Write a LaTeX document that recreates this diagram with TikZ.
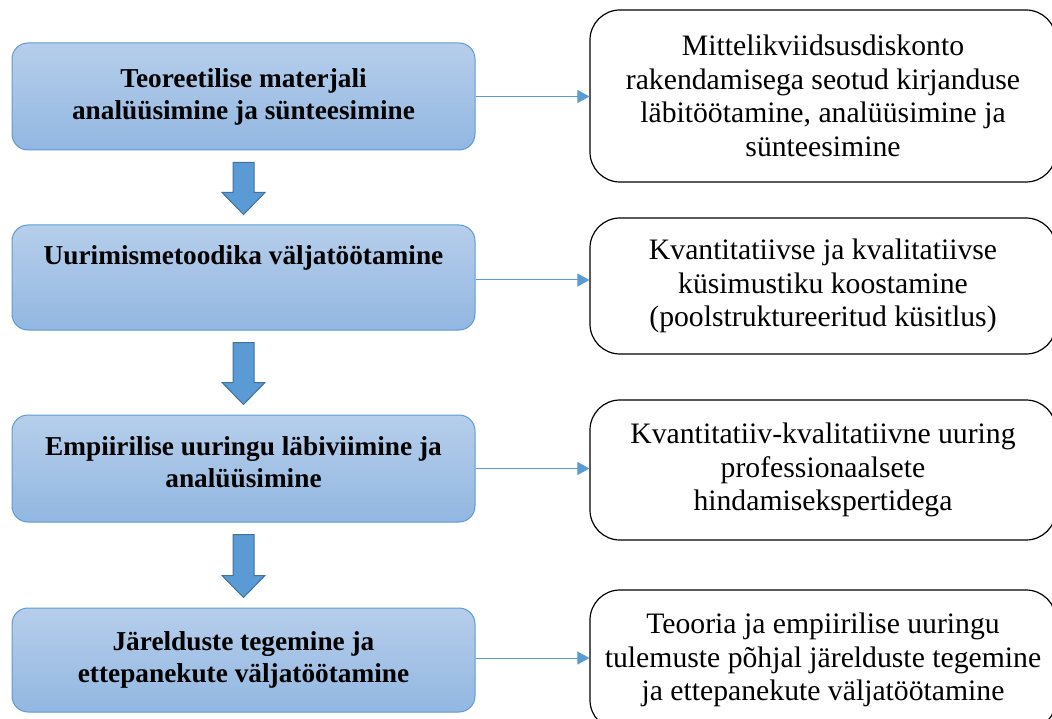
\documentclass[tikz,border=0pt]{standalone}
\usepackage{fontspec}
\setmainfont{Liberation Serif}
\usetikzlibrary{calc,arrows.meta}
\definecolor{accent}{RGB}{91,155,213}
\definecolor{accentdark}{RGB}{65,113,156}
\definecolor{gradtop}{RGB}{182,206,235}
\definecolor{gradbot}{RGB}{146,183,225}
\tikzset{
  leftbox/.style={draw=accent, line width=1pt, rounded corners=16pt, top color=gradtop, bottom color=gradbot,
    minimum width=463pt, align=center, font=\fontsize{27.3}{32}\selectfont\bfseries, inner sep=0pt},
  rightbox/.style={draw=black, line width=1.2pt, rounded corners=30pt, fill=white,
    minimum width=466pt, align=center, font=\fontsize{29.7}{33.5}\selectfont, inner sep=0pt},
  link/.style={draw=accent, line width=1pt, -{Triangle[length=12pt,width=13pt]}},
  blockarrow/.style={fill=accent, draw=accentdark, line width=1pt}
}
\newcommand{\blockarr}[2]{%
  \path let \p1=($(#1.south)$), \p2=($(#2.north)$) in
    [blockarrow] (\x1-10.5pt,\y1-12pt) -- (\x1+10.5pt,\y1-12pt) -- (\x1+10.5pt,\y2+32pt)
    -- (\x1+21.5pt,\y2+32pt) -- (\x1,\y2+10pt) -- (\x1-21.5pt,\y2+32pt) -- (\x1-10.5pt,\y2+32pt) -- cycle;}
\begin{document}
\begin{tikzpicture}[x=1pt,y=1pt]
\useasboundingbox (0,0) rectangle (1052,-719);
\clip (0,0) rectangle (1052,-719);
\fill[white] (0,0) rectangle (1052,-719);

\node[leftbox, minimum height=107pt] (L1) at (243.5,-96.5) {Teoreetilise materjali\\analüüsimine ja sünteesimine};
\node[leftbox, minimum height=105pt] (L2) at (243.5,-277.5) {Uurimismetoodika väljatöötamine\\[13pt]\mbox{}};
\node[leftbox, minimum height=107pt] (L3) at (243.5,-468.5) {Empiirilise uuringu läbiviimine ja\\analüüsimine\\[-20pt]\mbox{}};
\node[leftbox, minimum height=104pt] (L4) at (243.5,-660) {Järelduste tegemine ja\\ettepanekute väljatöötamine};

\node[rightbox, minimum height=172pt] (R1) at (823,-96) {Mittelikviidsusdiskonto\\rakendamisega seotud kirjanduse\\läbitöötamine, analüüsimine ja\\sünteesimine};
\node[rightbox, minimum height=136pt] (R2) at (823,-286) {Kvantitatiivse ja kvalitatiivse\\küsimustiku koostamine\\(poolstruktureeritud küsitlus)};
\node[rightbox, minimum height=140pt] (R3) at (823,-470) {Kvantitatiiv-kvalitatiivne uuring\\professionaalsete\\hindamisekspertidega};
\node[rightbox, minimum height=140pt] (R4) at (823,-660) {Teooria ja empiirilise uuringu\\tulemuste põhjal järelduste tegemine\\ja ettepanekute väljatöötamine};

\draw[link] (L1.east) -- (L1.east -| R1.west);
\draw[link] ([yshift=-2.5pt]L2.east) -- ([yshift=-2.5pt]L2.east -| R2.west);
\draw[link] (L3.east) -- (L3.east -| R3.west);
\draw[link] ([yshift=2pt]L4.east) -- ([yshift=2pt]L4.east -| R4.west);

\blockarr{L1}{L2}
\blockarr{L2}{L3}
\blockarr{L3}{L4}
\end{tikzpicture}
\end{document}
